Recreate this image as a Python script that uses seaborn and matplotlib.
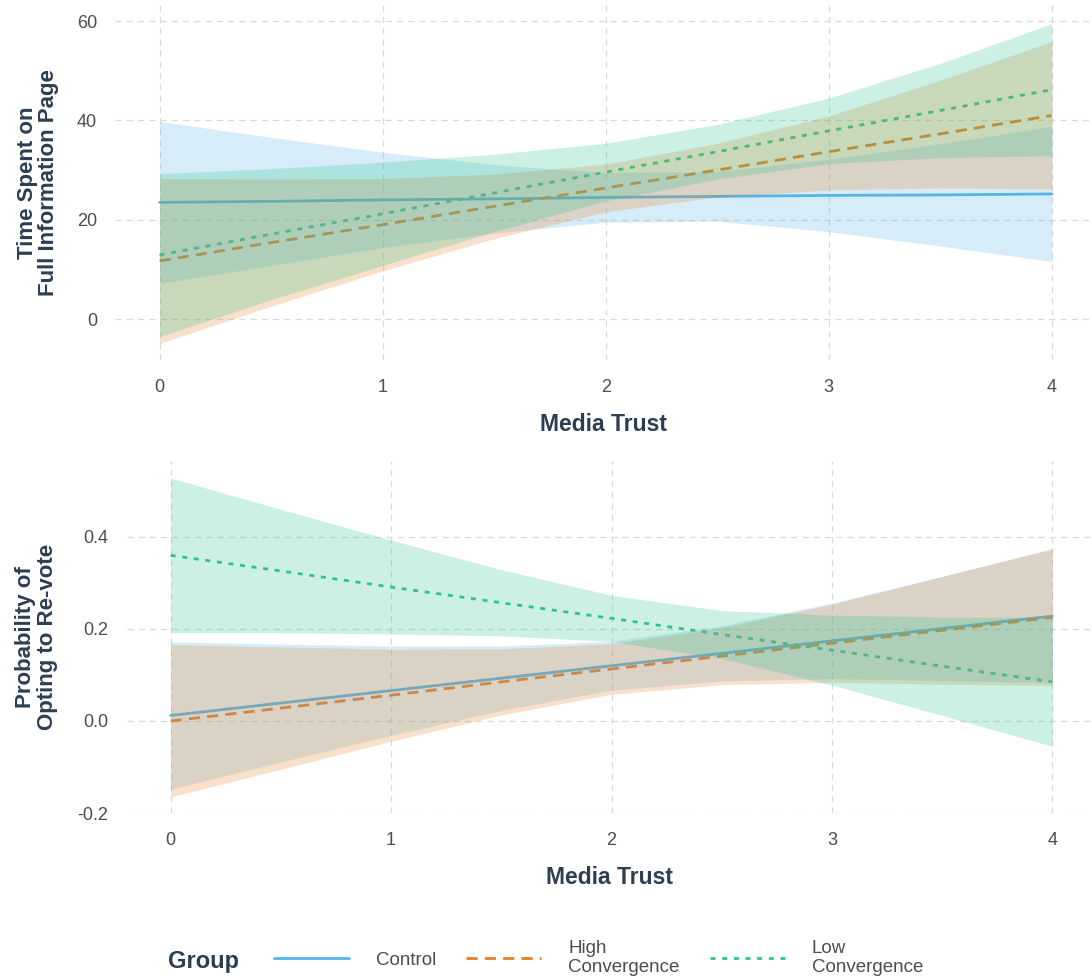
import numpy as np
import pandas as pd
import seaborn as sns
import matplotlib
matplotlib.use("Agg")
import matplotlib.pyplot as plt
from matplotlib.lines import Line2D

# ---- data -------------------------------------------------------------
media_trust = [0.0, 0.5, 1.0, 1.5, 2.0, 2.5, 3.0, 3.5, 4.0]
groups = ["Control", "High Convergence", "Low Convergence"]

# Time spent on full information page (predicted value and 95% CI)
time_control = [23.5, 23.7, 24.0, 24.2, 24.5, 24.7, 24.9, 25.0, 25.2]
time_control_lo = [7.2, 10.8, 14.4, 17.3, 19.5, 19.7, 17.6, 14.7, 11.6]
time_control_hi = [39.8, 36.6, 33.6, 31.1, 29.5, 29.7, 32.2, 35.3, 38.8]

time_high = [11.7, 15.4, 19.0, 22.7, 26.4, 30.0, 33.7, 37.3, 41.0]
time_high_lo = [-4.9, 2.6, 9.7, 16.2, 21.6, 24.6, 26.0, 26.4, 26.2]
time_high_hi = [28.3, 28.2, 28.3, 29.2, 31.2, 35.4, 40.9, 48.1, 55.9]

time_low = [12.9, 17.1, 21.2, 25.4, 29.6, 33.7, 37.9, 42.0, 46.2]
time_low_lo = [-3.5, 3.9, 10.8, 17.6, 23.8, 28.2, 31.3, 32.5, 32.9]
time_low_hi = [29.3, 30.3, 31.6, 33.2, 35.4, 39.2, 44.5, 51.5, 59.5]

# Probability of opting to re-vote (predicted value and 95% CI)
prob_control = [0.012, 0.039, 0.066, 0.093, 0.120, 0.147, 0.174, 0.201, 0.228]
prob_control_lo = [-0.148, -0.089, -0.031, 0.023, 0.067, 0.087, 0.092, 0.088, 0.083]
prob_control_hi = [0.172, 0.167, 0.163, 0.163, 0.173, 0.207, 0.256, 0.314, 0.373]

prob_high = [0.000, 0.028, 0.056, 0.085, 0.113, 0.141, 0.169, 0.197, 0.225]
prob_high_lo = [-0.165, -0.105, -0.044, 0.013, 0.058, 0.079, 0.084, 0.080, 0.077]
prob_high_hi = [0.166, 0.161, 0.156, 0.157, 0.168, 0.203, 0.254, 0.314, 0.375]

prob_low = [0.360, 0.326, 0.291, 0.257, 0.223, 0.188, 0.154, 0.119, 0.085]
prob_low_lo = [0.192, 0.192, 0.189, 0.185, 0.173, 0.136, 0.078, 0.012, -0.055]
prob_low_hi = [0.528, 0.460, 0.393, 0.329, 0.273, 0.240, 0.230, 0.226, 0.225]

x_ticks = [0, 1, 2, 3, 4]
time_ticks = [0, 20, 40, 60]
prob_ticks = [-0.2, 0.0, 0.2, 0.4]
prob_tick_labels = ["-0.2", "0.0", "0.2", "0.4"]

x_label = "Media Trust"
time_label = "Time Spent on\nFull Information Page"
prob_label = "Probability of\nOpting to Re-vote"
legend_title = "Group"
legend_labels = ["Control", "High\nConvergence", "Low\nConvergence"]

# ---- styling ----------------------------------------------------------
palette = {"Control": "#56B4E9", "High Convergence": "#E67E22",
           "Low Convergence": "#2CC48E"}
dash_styles = {"Control": "", "High Convergence": (4, 2.6),
               "Low Convergence": (1.8, 2.4)}

sns.set_theme(style="white")
plt.rcParams["font.family"] = ["Liberation Sans", "DejaVu Sans"]

title_color = "#2C3E50"
tick_color = "#4D4D4D"
grid_color = "#DADADA"

W, H = 1092, 980
fig = plt.figure(figsize=(W / 100, H / 100), dpi=100)


def px_axes(left, top, right, bottom):
    return fig.add_axes([left / W, 1 - bottom / H, (right - left) / W,
                         (bottom - top) / H])


def long_frame(mid, lo, hi):
    rows = []
    for g, m, l, h in zip(groups, mid, lo, hi):
        for xv, a, b, c in zip(media_trust, m, l, h):
            rows.append({"Media Trust": xv, "Group": g, "fit": a,
                         "lower": b, "upper": c})
    return pd.DataFrame(rows)


def draw_panel(ax, df, ylim, yticks, yticklabels, ylabel, ylab_x):
    # fitted lines first, confidence ribbons laid over them
    sns.lineplot(data=df, x="Media Trust", y="fit", hue="Group",
                 style="Group", hue_order=groups, style_order=groups,
                 palette=palette, dashes=dash_styles, linewidth=2,
                 legend=False, ax=ax, zorder=2)
    for g in groups:
        sub = df[df["Group"] == g]
        ax.fill_between(sub["Media Trust"], sub["lower"], sub["upper"],
                        color=palette[g], alpha=0.24, linewidth=0,
                        zorder=3)
    ax.set_xlim(-0.2, 4.18)
    ax.set_ylim(*ylim)
    ax.set_xticks(x_ticks)
    ax.set_xticklabels([str(t) for t in x_ticks])
    ax.set_yticks(yticks)
    ax.set_yticklabels(yticklabels)
    ax.tick_params(axis="both", length=0, labelsize=13,
                   labelcolor=tick_color)
    ax.tick_params(axis="x", pad=14)
    ax.tick_params(axis="y", pad=13)
    ax.grid(True, color=grid_color, linestyle=(0, (5, 4)), linewidth=0.9)
    ax.set_axisbelow(True)
    for s in ax.spines.values():
        s.set_visible(False)
    ax.set_xlabel(x_label, fontsize=16.5, fontweight="bold",
                  color=title_color)
    ax.set_ylabel(ylabel, fontsize=16, fontweight="bold", color=title_color,
                  linespacing=1.05)
    ax.xaxis.set_label_coords(0.5, -0.15)
    ax.yaxis.set_label_coords(ylab_x, 0.5)


ax_top = px_axes(115, 5, 1092, 360)
draw_panel(ax_top,
           long_frame([time_control, time_high, time_low],
                      [time_control_lo, time_high_lo, time_low_lo],
                      [time_control_hi, time_high_hi, time_low_hi]),
           (-8.25, 63.25), time_ticks, [str(t) for t in time_ticks],
           time_label, -0.057)

ax_bot = px_axes(126.6, 461, 1092, 813)
draw_panel(ax_bot,
           long_frame([prob_control, prob_high, prob_low],
                      [prob_control_lo, prob_high_lo, prob_low_lo],
                      [prob_control_hi, prob_high_hi, prob_low_hi]),
           (-0.2, 0.565), prob_ticks, prob_tick_labels,
           prob_label, -0.071)

# ---- legend -----------------------------------------------------------
handles = []
for g in groups:
    ls = "-" if dash_styles[g] == "" else (0, dash_styles[g])
    handles.append(Line2D([0], [0], color=palette[g], linewidth=2,
                          linestyle=ls))
fig.text(168 / W, 1 - 961 / H, legend_title, fontsize=17,
         fontweight="bold", color=title_color, va="center", ha="left")
fig.legend(handles, legend_labels, loc="center left",
           bbox_to_anchor=(266 / W, 1 - 958 / H), ncol=3, frameon=False,
           handlelength=4.0, handletextpad=1.45, columnspacing=1.6,
           fontsize=13.5, labelcolor=tick_color, borderaxespad=0)

fig.savefig("out.png", dpi=100, facecolor="white")
